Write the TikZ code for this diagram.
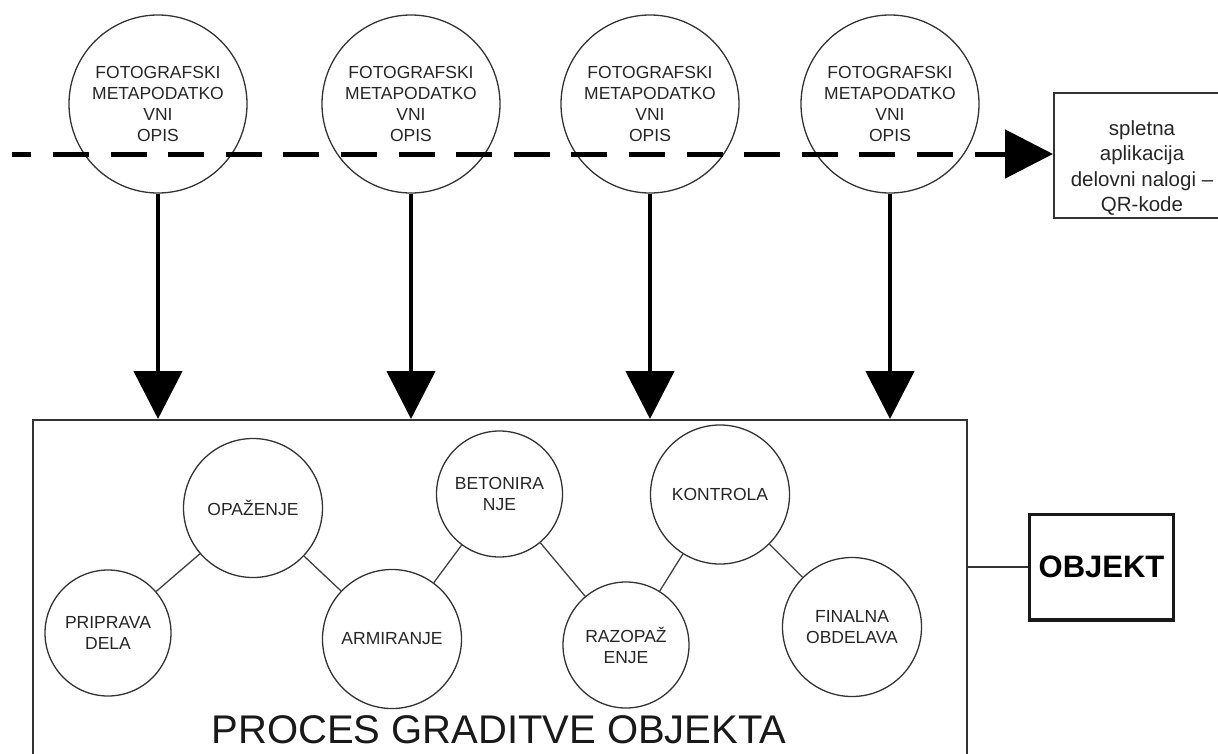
\documentclass[tikz,border=0pt]{standalone}
\usepackage{fontspec}
\setmainfont{Liberation Sans}
\usetikzlibrary{arrows.meta}
\begin{document}
\begin{tikzpicture}[x=1pt,y=-1pt,
  stage/.style={circle, draw=black!80, line width=1.3pt, inner sep=0pt, align=center,
    text=black!85, font=\fontsize{17.5}{21}\selectfont},
  meta/.style={stage, minimum size=178pt},
  small/.style={stage, minimum size=126pt},
  large/.style={stage, minimum size=139pt},
  link/.style={draw=black!75, line width=1.3pt},
  frame/.style={draw=black!80, line width=1.8pt, inner sep=0pt},
  bigtip/.style={-{Triangle[length=48pt,width=48pt]}},
  feed/.style={line width=4.5pt, bigtip},
  flow/.style={line width=5pt, dash pattern=on 36pt off 21.6pt, dash phase=16.6pt, bigtip}
]
\useasboundingbox (0,0) rectangle (1218,753);

% photographic metadata circles
\node[meta] (f1) at (158,104) {FOTOGRAFSKI\\METAPODATKO\\VNI\\OPIS};
\node[meta] (f2) at (411,104) {FOTOGRAFSKI\\METAPODATKO\\VNI\\OPIS};
\node[meta] (f3) at (650,104) {FOTOGRAFSKI\\METAPODATKO\\VNI\\OPIS};
\node[meta] (f4) at (890,104) {FOTOGRAFSKI\\METAPODATKO\\VNI\\OPIS};

% web application box
\node[frame, minimum width=180pt, minimum height=125pt, anchor=north west] (app) at (1053,92) {};
\node[align=center, text=black!85, font=\fontsize{20.5}{25.5}\selectfont] (apptext) at (1142,168)
  {spletna\\aplikacija\\delovni nalogi –\\QR-kode};

% dashed flow towards the application
\coordinate (dstart) at (12,154);
\draw[flow] (dstart) -- (dstart -| app.west);

% construction process frame
\node[frame, minimum width=934pt, minimum height=420pt, anchor=north west] (proc) at (32,419) {};
\node[anchor=base, text=black!90, font=\fontsize{40}{48}\selectfont] (title) at (499,743) {PROCES GRADITVE OBJEKTA};

% arrows from metadata into the process
\foreach \n in {f1,f2,f3,f4}
  \draw[feed] (\n.south) -- (\n.south |- proc.north);

% process stages
\node[small] (pd) at (108,633) {PRIPRAVA\\DELA};
\node[large] (op) at (253,508) {OPAŽENJE};
\node[large] (ar) at (392,639) {ARMIRANJE};
\node[small] (be) at (499.5,494) {BETONIRA\\NJE};
\node[small] (ra) at (626,645) {RAZOPAŽ\\ENJE};
\node[large] (ko) at (720,494.5) {KONTROLA};
\node[large] (fi) at (852,627) {FINALNA\\OBDELAVA};

\draw[link] (pd) -- (op);
\draw[link] (op) -- (ar);
\draw[link] (ar) -- (be);
\draw[link] (be) -- (ra);
\draw[link] (ra) -- (ko);
\draw[link] (ko) -- (fi);

% resulting object
\node[draw=black!90, line width=3.5pt, minimum width=144pt, minimum height=105.5pt, inner sep=0pt,
  font=\bfseries\fontsize{31}{37}\selectfont] (obj) at (1101.5,567) {OBJEKT};
\draw[draw=black!80, line width=1.5pt] (obj.west) -- (obj.west -| proc.east);
\end{tikzpicture}
\end{document}
